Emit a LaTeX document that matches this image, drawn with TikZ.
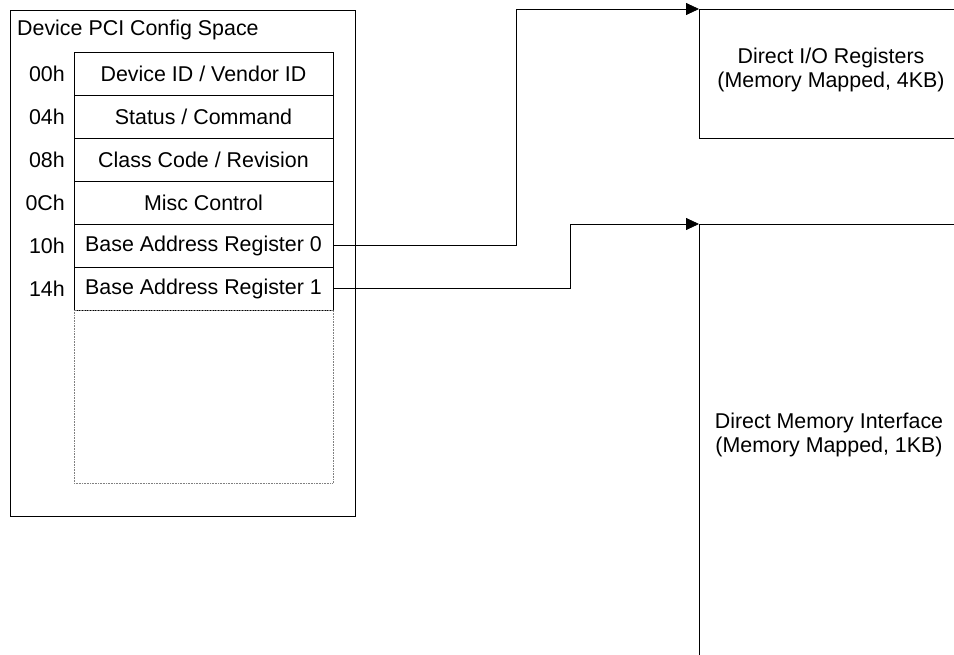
\documentclass[tikz,border=0pt]{standalone}
\usepackage{fontspec}
\setmainfont{Liberation Sans}
\usetikzlibrary{positioning,arrows.meta}

\begin{document}
\begin{tikzpicture}[x=1pt,y=-1pt,>={Triangle[length=13pt,width=12pt]},
  font=\fontsize{21.4}{24}\selectfont,
  reg/.style={draw,line width=0.8pt,outer sep=0pt,inner sep=0pt,minimum width=259pt,minimum height=43pt},
  offs/.style={inner sep=0pt},
  membox/.style={draw,line width=0.8pt,outer sep=0pt,anchor=north west,minimum width=280pt},
  conn/.style={->,line width=0.8pt}]
  \useasboundingbox (0,0) rectangle (954,655);
  \node[draw,line width=1.3pt,anchor=north west,minimum width=345pt,minimum height=506pt,
    label={[anchor=north west,inner sep=0pt,xshift=7pt,yshift=-10pt]north west:Device PCI Config Space}] (cfg) at (10,10) {};
  \node[reg,anchor=north west] (r0) at (74,52) {Device ID / Vendor ID};
  \node[reg,below=0pt of r0] (r1) {Status / Command};
  \node[reg,below=0pt of r1] (r2) {Class Code / Revision};
  \node[reg,below=0pt of r2] (r3) {Misc Control};
  \node[reg,below=0pt of r3] (r4) {Base Address Register 0};
  \node[reg,below=0pt of r4] (r5) {Base Address Register 1};
  \node[draw=gray,densely dotted,line width=0.6pt,outer sep=0pt,minimum width=259pt,minimum height=173pt,below=0pt of r5] (spare) {};
  \foreach \i/\o in {0/00h,1/04h,2/08h,3/0Ch,4/10h,5/14h}
    \node[offs,left=9pt of r\i] (off\i) {\o};

  \node[membox,minimum height=129pt] (dio) at (699,9) {};
  \node[align=center] (diotxt) at (831,70) {Direct I/O Registers\\(Memory Mapped, 4KB)};
  \node[membox,minimum height=460pt] (dmi) at (699,224) {};
  \node[align=center] (dmitxt) at (829,435) {Direct Memory Interface\\(Memory Mapped, 1KB)};

  \draw[conn] (r4.east) -- ++(183,0) |- (dio.north west);
  \draw[conn] (r5.east) -- ++(237,0) |- (dmi.north west);
\end{tikzpicture}
\end{document}
